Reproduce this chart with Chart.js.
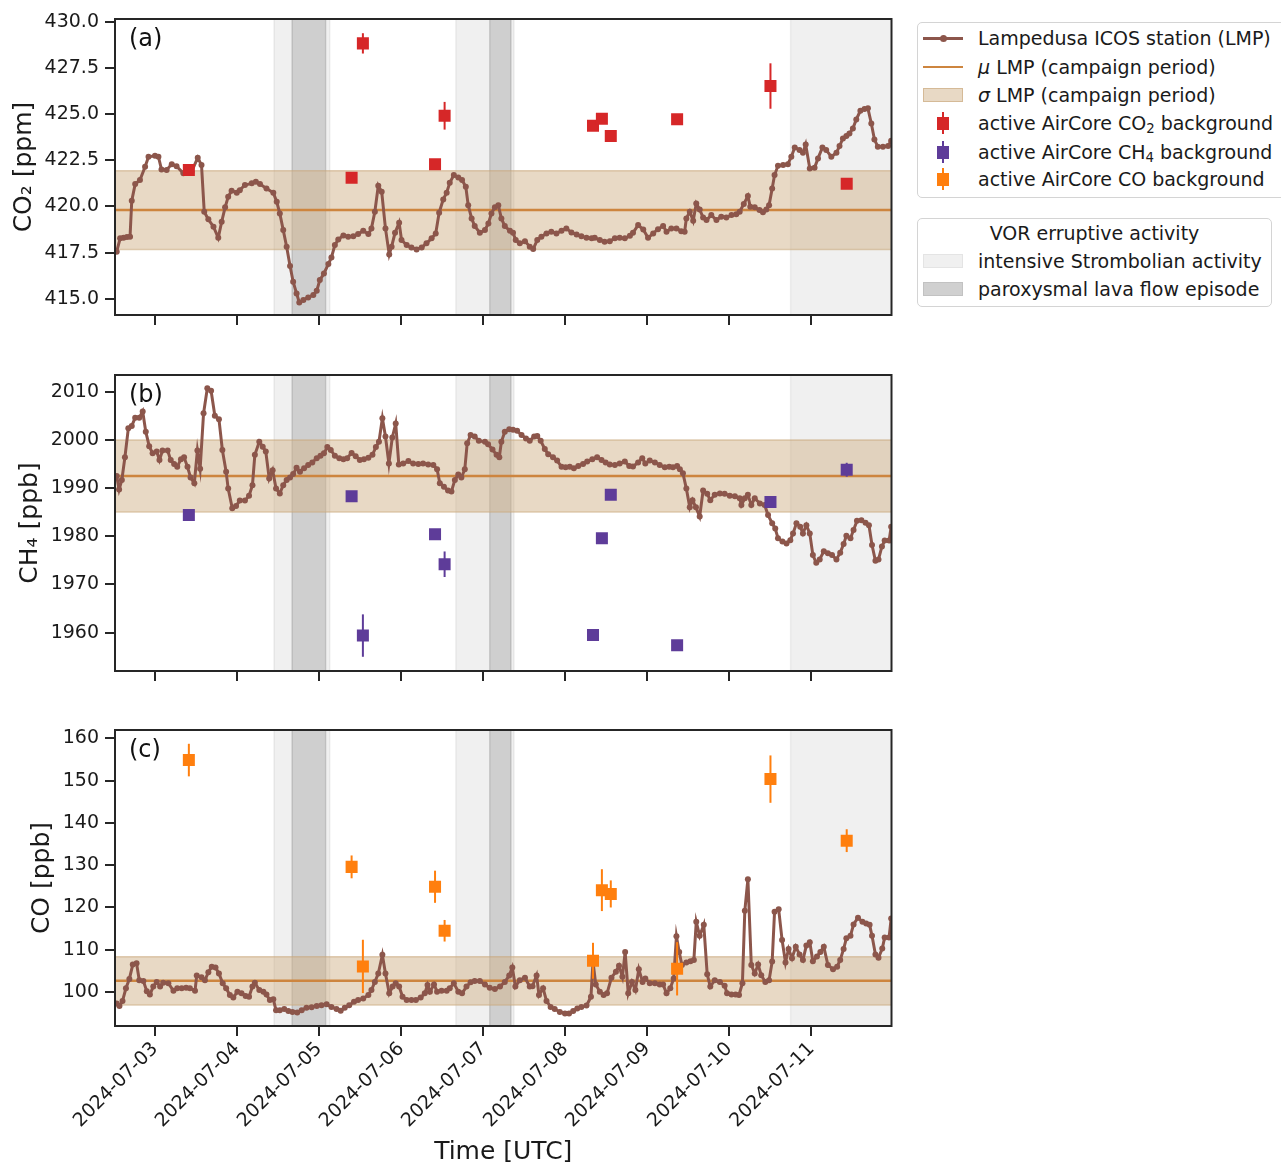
<!DOCTYPE html>
<html>
<head>
<meta charset="utf-8">
<script src="https://cdn.jsdelivr.net/npm/chart.js@4.4.1/dist/chart.umd.min.js"></script>
<style>
  html, body { margin: 0; background: #fff; overflow: hidden; }
  #page { position: relative; width: 1281px; height: 1167px; overflow: hidden; font-family: "DejaVu Sans", sans-serif; color: #1a1a1a; }
  .panel { position: absolute; left: 0; width: 900px; }
  .box { position: absolute; border: 1.5px solid #d4d4d4; border-radius: 5px; background: #fff; box-sizing: border-box; }
  .txt { position: absolute; left: 978px; height: 28px; line-height: 28px; font-size: 19px; white-space: nowrap; }
  .txt sub { font-size: 0.7em; vertical-align: -0.25em; line-height: 0; }
  .h { position: absolute; }
</style>
</head>
<body>
<div id="page">
  <div class="panel" style="top:0;height:340px"><canvas id="co2"></canvas></div>
  <div class="panel" style="top:355px;height:340px"><canvas id="ch4"></canvas></div>
  <div class="panel" style="top:710px;height:457px"><canvas id="co"></canvas></div>

  <div class="box" style="left:917px;top:22px;width:380px;height:176px"></div>
  <div class="h" style="left:923px;top:37px;width:40px;height:3px;background:#8c564b"></div>
  <div class="h" style="left:939.5px;top:35px;width:7px;height:7px;border-radius:50%;background:#8c564b"></div>
  <div class="txt" style="top:24px">Lampedusa ICOS station (LMP)</div>
  <div class="h" style="left:923px;top:65.5px;width:40px;height:2.5px;background:#cd853f"></div>
  <div class="txt" style="top:53px"><i>μ</i> LMP (campaign period)</div>
  <div class="h" style="left:923px;top:88px;width:40px;height:14px;background:rgba(210,180,140,0.5);border:1px solid rgba(200,165,120,0.6);box-sizing:border-box"></div>
  <div class="txt" style="top:81px"><i>σ</i> LMP (campaign period)</div>
  <div class="h" style="left:942px;top:112px;width:2px;height:22px;background:#d62728"></div>
  <div class="h" style="left:937px;top:117px;width:12px;height:13px;background:#d62728"></div>
  <div class="txt" style="top:109px">active AirCore CO<sub>2</sub> background</div>
  <div class="h" style="left:942px;top:141px;width:2px;height:22px;background:#5e3c99"></div>
  <div class="h" style="left:937px;top:146px;width:12px;height:13px;background:#5e3c99"></div>
  <div class="txt" style="top:138px">active AirCore CH<sub>4</sub> background</div>
  <div class="h" style="left:942px;top:168px;width:2px;height:22px;background:#ff7f0e"></div>
  <div class="h" style="left:937px;top:173px;width:12px;height:13px;background:#ff7f0e"></div>
  <div class="txt" style="top:165px">active AirCore CO background</div>

  <div class="box" style="left:917px;top:218px;width:355px;height:89px"></div>
  <div class="txt" style="top:219px;left:917px;width:355px;text-align:center">VOR erruptive activity</div>
  <div class="h" style="left:923px;top:254px;width:40px;height:14px;background:#f0f0f0;border:1px solid #e4e4e4;box-sizing:border-box"></div>
  <div class="txt" style="top:247px">intensive Strombolian activity</div>
  <div class="h" style="left:923px;top:282px;width:40px;height:14px;background:#d0d0d0;border:1px solid #c2c2c2;box-sizing:border-box"></div>
  <div class="txt" style="top:275px">paroxysmal lava flow episode</div>
</div>

<script>
Chart.defaults.font.family = "'DejaVu Sans', sans-serif";
Chart.defaults.color = '#1a1a1a';

// time axis in hours since 2024-07-03 00:00 UTC
const xMin = -11.7, xMax = 215.4;
const dayTicks = [0, 24, 48, 72, 96, 120, 144, 168, 192];
const dayLabels = ['2024-07-03', '2024-07-04', '2024-07-05', '2024-07-06', '2024-07-07',
                   '2024-07-08', '2024-07-09', '2024-07-10', '2024-07-11'];

const co2Ticks = [415, 417.5, 420, 422.5, 425, 427.5, 430];
const ch4Ticks = [1960, 1970, 1980, 1990, 2000, 2010];
const coTicks = [100, 110, 120, 130, 140, 150, 160];

// VOR eruptive activity [start, end] in hours
const strombolianSpans = [[34.8, 51.1], [88.0, 105.0], [185.9, 216]];
const paroxysmSpans = [[40.1, 49.9], [97.9, 104.1]];

// campaign mean and sigma at LMP
const co2Stats = [419.8, 2.13];
const ch4Stats = [1992.5, 7.45];
const coStats = [102.65, 5.7];

// Lampedusa ICOS station, [hour, value]
const co2Lmp = [[-11.2,417.55],[-10.2,418.27],[-9.2,418.3],[-8.2,418.35],[-7.3,418.36],[-6.8,420.31],[-5.8,421.21],[-4.4,421.43],[-2.9,422.15],[-1.9,422.69],
  [0,422.74],[1.0,422.69],[1.9,422.0],[3.4,421.97],[4.9,422.29],[6.3,422.18],[8.3,421.79],[10.7,421.88],[12.5,422.64],[13.6,422.24],
  [14.4,419.71],[15.6,419.3],[17.1,418.9],[18.5,418.3],[19.5,419.17],[20.5,419.95],[21.4,420.52],[22.4,420.85],[23.9,420.74],[24.8,420.88],
  [26.3,421.16],[28.3,421.25],[29.5,421.34],[30.7,421.21],[32.6,420.97],[34.6,420.74],[35.6,420.25],[36.5,419.62],[37.5,418.72],[38.5,417.82],
  [39.5,416.77],[40.4,415.92],[41.4,415.29],[42.2,414.8],[43.4,414.93],[44.8,415.07],[46.3,415.2],[47.3,415.43],[48.2,416.01],[49.4,416.37],
  [50.7,416.88],[51.6,417.24],[52.6,417.91],[53.6,418.21],[55.1,418.43],[56.5,418.36],[58.0,418.39],[59.4,418.5],[60.9,418.68],[62.4,418.5],
  [63.3,418.81],[64.3,419.71],[65.3,421.12],[66.3,420.79],[67.4,418.81],[68.5,417.4],[69.2,417.82],[70.2,418.57],[71.4,419.12],[72.1,418.18],
  [73.6,417.91],[75.0,417.78],[76.5,417.67],[78.0,417.78],[79.4,418.0],[80.9,418.27],[82.1,418.54],[83.1,419.66],[84.3,420.38],[85.3,420.74],
  [86.2,421.28],[87.4,421.7],[88.7,421.57],[89.8,421.43],[90.9,421.06],[91.6,420.07],[92.6,419.35],[93.5,418.94],
  [95.0,418.57],[96.5,418.72],[97.5,419.08],[98.4,419.62],[99.4,419.95],[100.4,420.07],[101.3,419.35],[102.3,418.94],[103.8,418.68],[104.7,418.57],
  [105.5,418.18],[106.7,418.0],[108.2,418.12],[109.6,417.82],[110.6,417.69],[111.8,418.18],[113.0,418.36],[114.5,418.54],[115.9,418.63],[117.4,418.54],
  [118.9,418.68],[120.3,418.81],[121.8,418.59],[123.3,418.48],[124.7,418.39],[126.2,418.3],[127.7,418.27],[128.6,418.3],[130.1,418.18],[131.5,418.09],
  [133.0,418.12],[134.5,418.27],[135.9,418.3],[137.4,418.27],[138.9,418.41],[139.8,418.57],[141.3,418.99],[142.8,418.75],[144.2,418.3],[145.7,418.54],
  [147.1,418.77],[148.6,418.94],[149.6,418.63],[151.0,418.81],[152.5,418.81],[153.9,418.66],[154.9,418.63],[155.4,419.35],[156.4,419.71],[157.4,419.22],
  [158.3,420.16],[159.3,419.84],[160.3,419.4],[161.3,419.26],[162.7,419.53],[164.2,419.26],[165.6,419.44],[167.1,419.4],[168.6,419.53],[170.0,419.57],
  [171.0,419.71],[172.2,420.13],[173.4,420.56],[174.1,419.98],[175.4,419.95],[176.8,419.8],[177.8,419.68],[178.8,419.84],[179.6,420.07],[180.5,420.97],
  [181.2,421.7],[182.2,422.2],[183.7,422.24],[185.1,422.29],[186.1,422.69],[187.1,423.19],[188.5,423.05],[189.5,422.91],[190.3,423.36],[191.5,422.06],
  [192.9,422.09],[193.9,422.6],[195.2,423.19],[196.3,423.05],[197.8,422.69],[199.3,422.91],[200.2,423.27],[201.2,423.68],[202.2,423.81],[203.1,423.95],
  [204.1,424.22],[205.1,424.71],[206.3,425.18],[207.5,425.27],[208.5,425.31],[209.5,424.49],[210.4,423.63],[211.4,423.23],[212.9,423.23],[214.4,423.27],[215.3,423.56]];

const ch4Lmp = [[-11.2,1992.5],[-10.5,1989.7],[-9.7,1991.7],[-8.8,1996.4],[-7.8,2002.4],[-6.8,2002.9],[-5.8,2004.6],[-4.6,2004.6],[-3.6,2005.9],[-2.7,2001.7],
  [-1.7,1998.7],[-0.7,1997.2],[0.5,1997.6],[1.3,1995.8],[2.2,1997.8],[3.7,1997.8],[4.6,1995.8],[5.6,1995.0],[6.5,1994.4],[7.6,1996.0],
  [8.5,1996.4],[9.5,1994.4],[10.4,1992.2],[11.5,1991.0],[12.4,1997.8],[13.2,1994.0],[14.2,2005.5],[15.3,2010.7],[16.4,2010.2],[17.5,2005.0],
  [18.7,2004.3],[19.7,1997.9],[20.8,1993.4],[21.4,1989.9],[22.6,1985.8],[23.7,1986.3],[24.8,1987.4],[26.3,1987.4],[27.5,1988.4],[28.5,1990.6],
  [29.2,1996.9],[30.5,1999.6],[31.5,1998.6],[32.4,1997.6],[33.4,1992.0],[34.4,1993.7],[35.4,1989.9],[36.5,1988.9],[37.5,1990.6],[38.5,1991.7],
  [39.5,1992.2],[40.4,1992.9],[41.4,1994.2],[42.4,1993.4],[43.6,1994.1],[44.8,1994.8],[46.0,1995.3],[47.3,1996.2],[48.4,1996.7],[49.4,1997.2],
  [50.4,1998.5],[51.4,1997.9],[52.6,1996.7],[53.9,1996.2],[55.1,1996.0],[56.2,1996.2],[57.5,1997.3],[58.7,1996.6],[59.9,1995.8],[61.1,1996.0],
  [62.4,1996.3],[63.6,1996.9],[64.6,1998.5],[65.5,1999.6],[66.5,2004.5],[67.4,2000.7],[68.4,1995.1],[69.4,2000.5],[70.4,2003.4],[71.3,1994.9],
  [72.6,1995.1],[74.1,1995.6],[75.5,1995.1],[77.0,1995.0],[78.4,1995.1],[79.9,1994.9],[81.4,1994.8],[82.5,1993.9],[83.3,1991.0],[84.5,1990.3],
  [85.7,1989.5],[86.7,1989.3],[87.7,1991.7],[88.7,1992.8],[89.6,1992.2],[90.6,1993.9],[91.3,1999.3],[92.3,2001.0],[93.5,2000.7],[94.7,1999.8],
  [96.5,1999.6],[97.4,1999.1],[98.7,1998.0],[99.9,1996.9],[100.7,1996.4],[101.3,1999.6],[102.3,2001.7],[103.6,2002.2],[104.7,2002.1],[105.9,2001.9],
  [107.2,2001.0],[108.5,2000.3],[109.6,1999.8],[110.9,2000.7],[111.8,2000.8],[112.8,1999.8],[114.0,1998.1],[115.0,1997.0],[116.4,1996.4],[117.6,1995.7],
  [118.9,1994.4],[120.1,1994.3],[121.3,1994.4],[122.5,1994.1],[123.8,1994.6],[125.2,1995.0],[126.4,1995.5],[127.9,1996.0],[129.3,1996.4],[130.6,1995.8],
  [131.8,1995.3],[133.0,1994.9],[134.5,1994.8],[135.9,1995.1],[137.4,1995.5],[138.7,1994.6],[139.8,1994.5],[141.3,1995.3],[142.5,1996.2],[143.4,1995.1],
  [144.7,1995.7],[146.2,1995.3],[147.6,1994.8],[149.1,1994.3],[150.4,1994.4],[151.5,1994.3],[152.7,1994.6],[153.5,1993.9],[154.4,1993.1],[155.4,1989.9],
  [156.4,1986.0],[157.2,1987.5],[158.2,1986.0],[159.3,1984.1],[160.3,1989.5],[161.5,1988.8],[162.4,1987.5],[163.7,1988.6],[165.2,1988.9],[166.6,1988.8],
  [168.1,1988.4],[169.6,1988.3],[171.0,1987.9],[171.5,1986.5],[172.5,1987.9],[173.4,1988.6],[174.4,1986.5],[175.4,1987.9],[176.9,1986.8],[178.3,1986.5],
  [179.3,1984.4],[180.5,1982.7],[181.4,1981.6],[182.2,1979.6],[183.5,1978.9],[184.7,1978.5],[185.8,1979.2],[186.6,1980.6],[187.6,1982.7],[188.7,1982.0],
  [189.5,1980.6],[190.5,1982.3],[191.5,1980.6],[192.4,1976.1],[193.4,1974.5],[194.4,1975.2],[195.6,1976.9],[196.8,1976.5],[198.0,1976.1],[199.3,1975.2],
  [200.4,1976.6],[201.4,1978.4],[202.2,1980.1],[203.4,1979.6],[204.3,1981.3],[205.3,1983.2],[206.6,1983.3],[207.8,1982.8],[208.8,1982.3],[209.7,1978.2],
  [210.7,1974.9],[211.6,1975.2],[212.6,1977.9],[213.4,1979.1],[214.7,1979.1],[215.3,1982.0]];

const coLmp = [[-11.2,97.3],[-10.4,96.7],[-9.5,97.9],[-8.5,100.9],[-7.5,103.1],[-6.5,106.5],[-5.4,106.8],[-4.6,102.8],[-3.4,102.6],[-2.4,100.2],
  [-1.5,99.4],[-0.5,101.3],[0.5,102.4],[1.5,101.3],[2.4,102.2],[3.9,102.1],[5.4,100.3],[6.5,100.9],[7.8,100.9],[9.1,101.0],
  [10.2,100.9],[11.7,100.3],[12.2,103.9],[13.6,103.5],[14.6,102.8],[15.6,104.7],[16.6,106.0],[17.7,105.8],[18.7,104.4],[19.8,102.1],
  [20.8,100.9],[21.9,99.3],[22.9,98.7],[24.1,100.1],[25.3,99.7],[26.5,99.1],[27.5,98.9],[28.5,101.3],[29.2,102.2],[30.5,100.5],
  [31.7,100.1],[32.6,99.4],[33.6,98.1],[34.6,98.3],[35.4,95.7],[36.5,95.7],[37.8,96.0],[39.0,95.5],[40.2,95.3],[41.6,95.2],
  [42.9,95.7],[44.3,96.3],[45.8,96.4],[47.3,96.7],[48.7,96.9],[50.2,97.1],[51.6,96.5],[53.1,96.0],[54.3,95.6],[55.5,96.3],
  [56.8,96.9],[58.2,97.7],[59.4,98.1],[60.9,98.5],[62.4,99.3],[63.3,100.5],[64.3,102.4],[65.3,104.4],[66.5,108.8],[67.4,104.4],
  [68.5,99.7],[69.5,101.3],[70.4,102.1],[71.4,101.3],[72.4,98.9],[73.6,98.1],[75.0,98.1],[76.3,98.1],[77.7,98.7],[78.9,99.7],
  [79.7,101.7],[80.4,100.1],[81.6,101.8],[82.5,100.1],[83.8,100.3],[85.3,100.3],[86.2,100.9],[87.4,102.1],[88.7,100.1],[89.8,99.7],
  [91.1,101.3],[92.3,102.3],[93.5,102.6],
  [95.0,102.6],[96.5,101.8],[97.9,101.0],[99.4,100.7],[100.9,101.3],[102.3,102.4],[103.6,103.9],[104.5,105.8],[105.4,101.3],[106.7,102.8],
  [108.2,103.4],[109.6,101.3],[110.4,101.4],[111.6,103.9],[112.3,99.3],[113.5,100.9],[114.5,97.9],[115.7,96.5],[116.9,96.0],[118.4,95.3],
  [119.9,94.95],[121.1,94.95],[122.3,95.5],[123.5,96.1],[124.7,96.5],[126.2,96.8],[127.5,98.9],[128.1,107.2],[128.9,101.8],[130.1,100.1],
  [131.2,99.3],[132.2,99.7],[133.5,103.4],[134.8,104.8],[135.7,106.2],[136.7,103.6],[137.5,109.5],[138.4,99.7],[139.5,102.4],[140.5,100.5],
  [141.5,105.4],[142.6,102.4],[143.4,103.2],[144.7,102.1],[146.2,102.1],[147.6,101.8],[148.6,101.8],[149.6,99.7],[150.7,100.9],[151.7,103.2],
  [152.5,113.2],[153.3,109.5],[154.1,106.4],[155.4,107.0],[156.6,107.3],[157.6,107.6],[158.3,116.6],[159.3,113.3],[160.5,115.9],[161.5,104.2],
  [162.4,101.3],[163.7,102.8],[165.2,102.4],[166.6,101.5],[167.3,99.7],[168.6,99.4],[169.8,99.4],[170.8,99.3],[171.8,102.1],[172.5,119.2],
  [173.4,126.7],[174.4,106.4],[175.4,104.4],[176.4,106.5],[177.3,104.0],[178.5,102.4],[179.6,102.8],[180.5,107.2],[181.2,119.0],[182.4,119.6],
  [183.4,112.3],[184.4,107.0],[185.3,110.2],[186.3,108.0],[187.4,110.7],[188.5,108.9],[189.5,107.6],[190.5,111.0],[191.5,111.8],[192.4,107.3],
  [193.6,108.4],[194.6,109.5],[195.6,110.7],[196.8,106.4],[198.3,105.4],[199.5,106.0],[200.4,107.6],[201.4,110.2],[202.2,112.7],[203.4,113.3],
  [204.3,116.0],[205.6,117.6],[206.9,116.6],[208.0,116.2],[209.0,115.9],[209.7,113.3],[210.7,108.9],[211.6,108.1],[212.7,110.3],[213.4,112.9],[214.7,112.9],[215.3,117.4]];

// active AirCore backgrounds
const aircoreHours = [9.9, 57.5, 60.8, 81.9, 84.7, 128.1, 130.7, 133.3, 152.7, 180.0, 202.3];
const co2Aircore = [421.97, 421.55, 428.83, 422.28, 424.91, 424.37, 424.75, 423.81, 424.72, 426.52, 421.23];
const co2AircoreErr = [0.15, 0.15, 0.55, 0.2, 0.75, 0.2, 0.2, 0.2, 0.2, 1.23, 0.2];
const ch4Aircore = [1984.4, 1988.3, 1959.4, 1980.4, 1974.2, 1959.5, 1979.6, 1988.6, 1957.4, 1987.1, 1993.8];
const ch4AircoreErr = [0.5, 0.5, 4.4, 0.6, 2.65, 0.5, 0.5, 0.5, 0.5, 0.5, 1.45];
const coAircore = [154.85, 129.6, 106.07, 124.9, 114.5, 107.4, 124.1, 123.2, 105.5, 150.35, 135.8];
const coAircoreErr = [3.85, 2.7, 6.3, 3.8, 2.55, 4.25, 4.95, 3.2, 6.3, 5.6, 2.7];

const eruptionSpans = {
  id: 'eruptionSpans',
  beforeDatasetsDraw(chart) {
    const {ctx, chartArea: a, scales: {x}} = chart;
    ctx.save();
    ctx.beginPath();
    ctx.rect(a.left, a.top, a.width, a.height);
    ctx.clip();
    const draw = (spans, color) => spans.forEach(([s, e]) => {
      const x0 = x.getPixelForValue(s), x1 = x.getPixelForValue(e);
      ctx.fillStyle = color;
      ctx.fillRect(x0, a.top, x1 - x0, a.height);
      ctx.strokeStyle = color;
      ctx.lineWidth = 1.5;
      ctx.beginPath();
      ctx.moveTo(x0, a.top); ctx.lineTo(x0, a.bottom);
      ctx.moveTo(x1, a.top); ctx.lineTo(x1, a.bottom);
      ctx.stroke();
    });
    draw(strombolianSpans, 'rgba(128,128,128,0.12)');
    draw(paroxysmSpans, 'rgba(128,128,128,0.3)');
    ctx.restore();
  }
};

const errorBars = {
  id: 'errorBars',
  beforeDatasetDraw(chart, args) {
    const ds = chart.data.datasets[args.index];
    if (!ds.errors) return;
    const {ctx, scales: {x, y}} = chart;
    ctx.save();
    ctx.strokeStyle = ds.backgroundColor;
    ctx.lineWidth = 2;
    ds.data.forEach((p, i) => {
      const px = x.getPixelForValue(p.x);
      ctx.beginPath();
      ctx.moveTo(px, y.getPixelForValue(p.y - ds.errors[i]));
      ctx.lineTo(px, y.getPixelForValue(p.y + ds.errors[i]));
      ctx.stroke();
    });
    ctx.restore();
  }
};

const frame = {
  id: 'frame',
  afterDraw(chart, args, opts) {
    const {ctx, chartArea: a} = chart;
    ctx.save();
    ctx.strokeStyle = '#262626';
    ctx.lineWidth = 2;
    ctx.strokeRect(a.left, a.top, a.width, a.height);
    ctx.fillStyle = '#111';
    ctx.font = "24px 'DejaVu Sans'";
    ctx.textBaseline = 'middle';
    ctx.fillText(opts.label, a.left + 14, a.top + 21);
    ctx.restore();
  }
};

const pairs = arr => arr.map(([x, y]) => ({x, y}));

function makePanel(id, o) {
  const [mean, sd] = o.stats;
  const bottom = id === 'co';
  return new Chart(document.getElementById(id), {
    type: 'line',
    data: {
      datasets: [
        {
          data: aircoreHours.map((h, i) => ({x: h, y: o.aircore[i]})),
          errors: o.aircoreErr,
          showLine: false, pointStyle: 'rect', pointRadius: 8.5, pointBorderWidth: 0,
          backgroundColor: o.color, borderColor: o.color, order: 0
        },
        {
          data: pairs(o.lmp), borderColor: '#8c564b', borderWidth: 3,
          pointRadius: 3, pointBorderWidth: 0, pointBackgroundColor: '#8c564b', order: 1
        },
        {
          data: [{x: xMin, y: mean}, {x: xMax, y: mean}],
          borderColor: '#cd853f', borderWidth: 2.5, pointRadius: 0, order: 2
        },
        {
          data: [{x: xMin, y: mean + sd}, {x: xMax, y: mean + sd}],
          borderColor: 'rgba(200,165,120,0.55)', borderWidth: 1.5, pointRadius: 0,
          fill: {value: mean - sd}, backgroundColor: 'rgba(210,180,140,0.5)', order: 3
        },
        {
          data: [{x: xMin, y: mean - sd}, {x: xMax, y: mean - sd}],
          borderColor: 'rgba(200,165,120,0.55)', borderWidth: 1.5, pointRadius: 0, order: 3
        }
      ]
    },
    options: {
      responsive: true, maintainAspectRatio: false, animation: false, events: [],
      layout: {padding: {left: 0, right: 8, top: o.padTop, bottom: 0}},
      plugins: {legend: {display: false}, tooltip: {enabled: false}, frame: {label: o.label}},
      scales: {
        x: {
          type: 'linear', min: xMin, max: xMax,
          afterBuildTicks: s => { s.ticks = dayTicks.map(v => ({value: v})); },
          afterFit: s => { s.height = o.xHeight; },
          border: {display: false},
          grid: {drawOnChartArea: false, drawTicks: true, tickLength: 10, color: '#262626', lineWidth: 2},
          ticks: {
            display: bottom, autoSkip: false, minRotation: 45, maxRotation: 45, padding: 2,
            font: {size: 19},
            callback: v => dayLabels[dayTicks.indexOf(v)]
          },
          title: {display: bottom, text: 'Time [UTC]', font: {size: 25}, padding: {top: 0, bottom: 0}}
        },
        y: {
          min: o.yMin, max: o.yMax,
          afterBuildTicks: s => { s.ticks = o.ticks.map(v => ({value: v})); },
          afterFit: s => { s.width = 115; },
          border: {display: false},
          grid: {drawOnChartArea: false, drawTicks: true, tickLength: 10, color: '#262626', lineWidth: 2},
          ticks: {padding: 6, font: {size: 19}, callback: o.fmt},
          title: {display: true, text: o.title, font: {size: 25}, padding: {top: o.titlePad, bottom: 0}}
        }
      }
    },
    plugins: [eruptionSpans, errorBars, frame]
  });
}

makePanel('co2', {
  label: '(a)', title: 'CO₂ [ppm]', stats: co2Stats, lmp: co2Lmp, aircore: co2Aircore, aircoreErr: co2AircoreErr,
  color: '#d62728', ticks: co2Ticks, fmt: v => v.toFixed(1), yMin: 414.12, yMax: 430.15,
  padTop: 19, xHeight: 25, titlePad: 9
});
makePanel('ch4', {
  label: '(b)', title: 'CH₄ [ppb]', stats: ch4Stats, lmp: ch4Lmp, aircore: ch4Aircore, aircoreErr: ch4AircoreErr,
  color: '#5e3c99', ticks: ch4Ticks, fmt: v => String(v), yMin: 1952.05, yMax: 2013.46,
  padTop: 20, xHeight: 24, titlePad: 15.5
});
makePanel('co', {
  label: '(c)', title: 'CO [ppb]', stats: coStats, lmp: coLmp, aircore: coAircore, aircoreErr: coAircoreErr,
  color: '#ff7f0e', ticks: coTicks, fmt: v => String(v), yMin: 91.98, yMax: 161.96,
  padTop: 20, xHeight: 141, titlePad: 27
});
</script>
</body>
</html>
